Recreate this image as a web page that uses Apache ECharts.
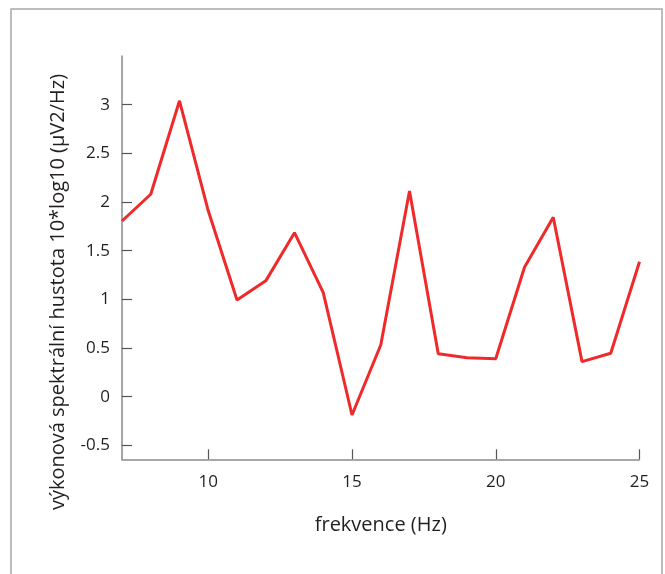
<!DOCTYPE html>
<html>
<head>
<meta charset="utf-8">
<script src="https://cdn.jsdelivr.net/npm/echarts@6/dist/echarts.min.js"></script>
<style>
  html, body { margin: 0; padding: 0; background: #ffffff; }
  #chart { width: 665px; height: 574px; }
</style>
</head>
<body>
<div id="chart"></div>
<script>
// Frequency bins (Hz)
const frequencies = [7, 8, 9, 10, 11, 12, 13, 14, 15, 16, 17, 18, 19, 20, 21, 22, 23, 24, 25];
// Power spectral density, 10*log10 (µV2/Hz)
const powerDensity = [1.805, 2.08, 3.04, 1.91, 0.993, 1.19, 1.685, 1.07, -0.188, 0.531,
                      2.113, 0.442, 0.40, 0.39, 1.33, 1.843, 0.36, 0.446, 1.387];
// Tick positions shown on each axis
const xTicks = [10, 15, 20, 25];
const yTicks = [-0.5, 0, 0.5, 1, 1.5, 2, 2.5, 3];

const xName = 'frekvence (Hz)';
const yName = 'výkonová spektrální hustota 10*log10 (µV2/Hz)';

const FONT = '"Open Sans", "Noto Sans", sans-serif';
const TEXT_COLOR = '#231f20';

const chart = echarts.init(document.getElementById('chart'), null, { renderer: 'canvas' });

chart.setOption({
  animation: false,
  backgroundColor: '#ffffff',
  grid: { left: 122, right: 25.5, top: 56, bottom: 114.7, containLabel: false },
  xAxis: {
    type: 'value',
    min: 7,
    max: 25,
    name: xName,
    nameLocation: 'middle',
    nameGap: 56,
    nameTextStyle: { fontFamily: FONT, fontSize: 20, color: TEXT_COLOR },
    axisLine: { show: true, onZero: false, lineStyle: { color: '#8a8a8a', width: 1.5 } },
    axisTick: { show: true, inside: true, length: 10, customValues: xTicks,
                lineStyle: { color: '#555555', width: 1.2 } },
    axisLabel: { customValues: xTicks, margin: 14, fontFamily: FONT, fontSize: 17, color: TEXT_COLOR },
    splitLine: { show: false }
  },
  yAxis: {
    type: 'value',
    min: -0.643,
    max: 3.5,
    axisLine: { show: true, onZero: false, lineStyle: { color: '#8a8a8a', width: 1.5 } },
    axisTick: { show: true, inside: true, length: 10, customValues: yTicks,
                lineStyle: { color: '#555555', width: 1.2 } },
    axisLabel: { customValues: yTicks, margin: 12, fontFamily: FONT, fontSize: 17, color: TEXT_COLOR },
    splitLine: { show: false }
  },
  graphic: [
    {
      type: 'rect',
      shape: { x: 11, y: 9, width: 651, height: 620 },
      style: { fill: null, stroke: '#a8a8a8', lineWidth: 1.5 },
      silent: true
    },
    {
      type: 'text',
      x: 58,
      y: 292,
      rotation: Math.PI / 2,
      style: {
        text: yName,
        fontFamily: FONT,
        fontSize: 20,
        fill: TEXT_COLOR,
        align: 'center',
        verticalAlign: 'middle'
      },
      silent: true
    }
  ],
  series: [{
    type: 'line',
    data: frequencies.map((f, i) => [f, powerDensity[i]]),
    showSymbol: false,
    lineStyle: { color: '#ee2a2a', width: 3 },
    clip: false
  }]
});
</script>
</body>
</html>
